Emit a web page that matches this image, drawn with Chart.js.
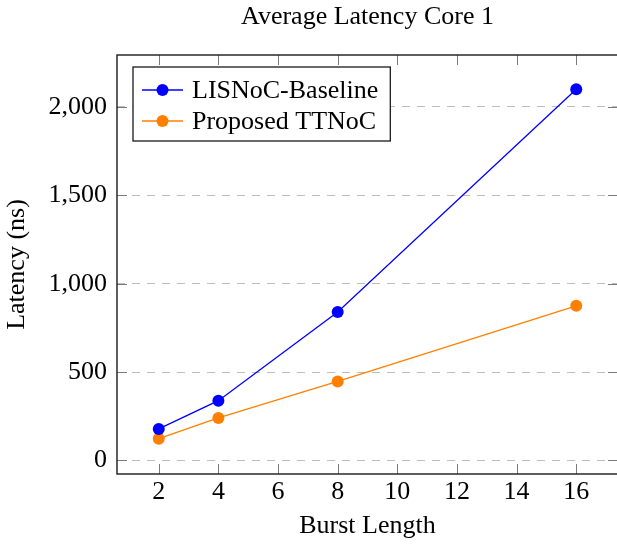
<!DOCTYPE html>
<html>
<head>
<meta charset="utf-8">
<script src="https://cdn.jsdelivr.net/npm/chart.js@4.4.1/dist/chart.umd.min.js"></script>
<style>
  html, body { margin: 0; padding: 0; background: #fff; overflow: hidden; width: 617px; height: 545px; }
  #c { position: absolute; left: 0; top: 0; }
</style>
</head>
<body>
<canvas id="c" width="624" height="545"></canvas>
<script>
const chartTitle = 'Average Latency Core 1';
const xAxisTitle = 'Burst Length';
const yAxisTitle = 'Latency (ns)';
const seriesNames = ['LISNoC-Baseline', 'Proposed TTNoC'];
const seriesColors = ['#0000ff', '#ff8000'];
const burstLengths = [2, 4, 8, 16];
const baselineLatency = [178, 338, 840, 2100];
const proposedLatency = [123, 240, 447, 875];
const xTickValues = [2, 4, 6, 8, 10, 12, 14, 16];
const yTickValues = [0, 500, 1000, 1500, 2000];
const xLimits = [0.6, 17.4];
const yLimits = [-77, 2294];

const FONT = "'Liberation Serif', 'Times New Roman', serif";
Chart.defaults.color = '#000';
Chart.defaults.font.family = FONT;

function toPoints(xs, ys) { return xs.map((x, i) => ({ x: x, y: ys[i] })); }

const plotTitle = {
  id: 'plotTitle',
  afterDraw(chart) {
    const { ctx, chartArea: a } = chart;
    ctx.save();
    ctx.font = '26px ' + FONT;
    ctx.fillStyle = '#000';
    ctx.textAlign = 'center';
    ctx.textBaseline = 'middle';
    ctx.fillText(chartTitle, (a.left + a.right) / 2, 17);
    ctx.restore();
  }
};

const frameAndTicks = {
  id: 'frameAndTicks',
  beforeDatasetsDraw(chart) {
    const { ctx, chartArea: a, scales } = chart;
    const xs = scales.x, ys = scales.y;
    const tl = 10;
    ctx.save();
    ctx.strokeStyle = '#7a7a7a';
    ctx.lineWidth = 1;
    ctx.beginPath();
    xTickValues.forEach(v => {
      const px = Math.round(xs.getPixelForValue(v)) + 0.5;
      ctx.moveTo(px, a.bottom); ctx.lineTo(px, a.bottom - tl);
      ctx.moveTo(px, a.top); ctx.lineTo(px, a.top + tl);
    });
    yTickValues.forEach(v => {
      const py = Math.round(ys.getPixelForValue(v)) + 0.5;
      ctx.moveTo(a.left, py); ctx.lineTo(a.left + tl, py);
      ctx.moveTo(a.right, py); ctx.lineTo(a.right - tl, py);
    });
    ctx.stroke();
    ctx.strokeStyle = '#1a1a1a';
    ctx.lineWidth = 1.4;
    ctx.strokeRect(a.left, a.top, a.right - a.left, a.bottom - a.top);
    ctx.restore();
  }
};

const boxLegend = {
  id: 'boxLegend',
  afterDatasetsDraw(chart) {
    const { ctx, chartArea: a } = chart;
    ctx.save();
    ctx.font = '26px ' + FONT;
    const widths = chart.data.datasets.map(d => ctx.measureText(d.label).width);
    const maxW = Math.max.apply(null, widths);
    const left = a.left + 16, top = a.top + 12;
    const rowH = 31, padTop = 23;
    const sampleL = 9, sampleR = 50, textX = 59;
    const w = textX + maxW + 12;
    const h = padTop + rowH * (chart.data.datasets.length - 1) + 20;
    ctx.fillStyle = '#fff';
    ctx.fillRect(left, top, w, h);
    ctx.strokeStyle = '#1a1a1a';
    ctx.lineWidth = 1.3;
    ctx.strokeRect(left, top, w, h);
    chart.data.datasets.forEach((d, i) => {
      const cy = top + padTop + i * rowH;
      ctx.strokeStyle = d.borderColor;
      ctx.lineWidth = 1.3;
      ctx.beginPath();
      ctx.moveTo(left + sampleL, cy); ctx.lineTo(left + sampleR, cy);
      ctx.stroke();
      ctx.fillStyle = d.backgroundColor;
      ctx.beginPath();
      ctx.arc(left + (sampleL + sampleR) / 2, cy, 6, 0, Math.PI * 2);
      ctx.fill();
      ctx.fillStyle = '#000';
      ctx.textBaseline = 'middle';
      ctx.textAlign = 'left';
      ctx.fillText(d.label, left + textX, cy + 1);
    });
    ctx.restore();
  }
};

new Chart(document.getElementById('c'), {
  type: 'line',
  data: {
    datasets: [
      { label: seriesNames[0], data: toPoints(burstLengths, baselineLatency),
        borderColor: seriesColors[0], backgroundColor: seriesColors[0],
        borderWidth: 1.3, pointRadius: 6, pointBorderWidth: 0, pointHoverRadius: 6, tension: 0 },
      { label: seriesNames[1], data: toPoints(burstLengths, proposedLatency),
        borderColor: seriesColors[1], backgroundColor: seriesColors[1],
        borderWidth: 1.3, pointRadius: 6, pointBorderWidth: 0, pointHoverRadius: 6, tension: 0 }
    ]
  },
  options: {
    responsive: false,
    animation: false,
    devicePixelRatio: 1,
    layout: { padding: { left: 0, right: 3, top: 55, bottom: 0 } },
    plugins: {
      legend: { display: false },
      tooltip: { enabled: false },
      title: { display: false }
    },
    scales: {
      x: {
        type: 'linear', position: 'bottom', min: xLimits[0], max: xLimits[1],
        afterBuildTicks: s => { s.ticks = xTickValues.map(v => ({ value: v })); },
        afterFit: s => { s.height = 71; },
        ticks: { font: { family: FONT, size: 26 }, color: '#000', padding: 3, maxRotation: 0, autoSkip: false,
          callback: v => String(v) },
        grid: { display: false, drawTicks: false },
        border: { display: false },
        title: { display: true, text: xAxisTitle, color: '#000',
          font: { family: FONT, size: 26 }, padding: { top: 0, bottom: 3 } }
      },
      y: {
        type: 'linear', position: 'left', min: yLimits[0], max: yLimits[1],
        afterBuildTicks: s => { s.ticks = yTickValues.map(v => ({ value: v })); },
        afterFit: s => { s.width = 117; },
        ticks: { font: { family: FONT, size: 26 }, color: '#000', padding: 10, autoSkip: false,
          callback: v => Number(v).toLocaleString('en-US') },
        grid: { display: true, drawTicks: false, color: '#bdbdbd', lineWidth: 1 },
        border: { display: false, dash: [8, 7] },
        title: { display: true, text: yAxisTitle, color: '#000',
          font: { family: FONT, size: 26 }, padding: { top: 2, bottom: 0 } }
      }
    }
  },
  plugins: [plotTitle, frameAndTicks, boxLegend]
});
</script>
</body>
</html>
